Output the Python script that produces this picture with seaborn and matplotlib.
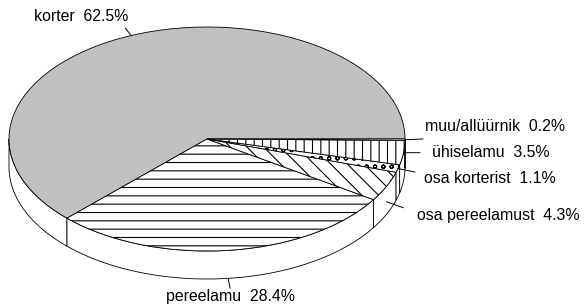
import numpy as np
import matplotlib
matplotlib.use('Agg')
import matplotlib.pyplot as plt
from matplotlib.patches import Polygon
import seaborn as sns

# Housing type shares (%), in drawing order counter-clockwise from 3 o'clock
labels = ['korter', 'pereelamu', 'osa pereelamust', 'osa korterist',
          'ühiselamu', 'muu/allüürnik']
shares = [62.5, 28.4, 4.3, 1.1, 3.5, 0.2]

colors = ['#c0c0c0', 'white', 'white', 'white', 'white', 'white']
hatches = ['', '--', '\\\\', 'oo', '||', '']

sns.set_theme(style='white')
plt.rcParams['font.family'] = ['Liberation Sans', 'DejaVu Sans']
plt.rcParams['hatch.linewidth'] = 0.8

fig = plt.figure(figsize=(5.84, 3.06), dpi=100)
ax = fig.add_axes([0, 0, 1, 1])

depth = 0.25  # height of the pie's side wall, in radius units (vertical)

# slice angles from the data
bounds = np.concatenate([[0], np.cumsum(shares)]) / sum(shares) * 360

# side wall for the front half (180..360 deg)
for a0, a1 in zip(bounds[:-1], bounds[1:]):
    lo, hi = max(a0, 180), min(a1, 360)
    if hi <= lo:
        continue
    t = np.radians(np.linspace(lo, hi, 80))
    top = np.column_stack([np.cos(t), np.sin(t)])
    bot = np.column_stack([np.cos(t), np.sin(t) - depth])[::-1]
    ax.add_patch(Polygon(np.vstack([top, bot]), closed=True, facecolor='white',
                         edgecolor='black', linewidth=0.6, zorder=1))

wedges, _ = ax.pie(shares, colors=colors, hatch=hatches, startangle=0,
                   radius=1, center=(0, 0),
                   wedgeprops=dict(edgecolor='black', linewidth=0.6, zorder=2))

ax.set_aspect('auto')
ax.set_xlim(-207 / 198, (584 - 207) / 198)
ax.set_ylim(-(306 - 139) / 112, 139 / 112)
ax.axis('off')

# label layout: wall drop (fraction of depth), leader end offset, text offset (pixels), alignment
drops = [0, 1.0, 0.55, 0, 0, 0]
leader = [(-6, 7.5), (2, -10), (17, -6), (17, -3.5), (16.5, 0), (18, 0.7)]
text_off = [(-3, 14.5), (2, -23), (30.6, -18), (26, -14), (28.5, -4), (20, 9)]
aligns = ['right', 'center', 'left', 'left', 'left', 'left']

for i, (name, val) in enumerate(zip(labels, shares)):
    mid = np.radians((bounds[i] + bounds[i + 1]) / 2)
    anchor = (np.cos(mid), np.sin(mid) - drops[i] * depth)
    ax.annotate('', xy=anchor, xytext=leader[i], textcoords='offset pixels',
                arrowprops=dict(arrowstyle='-', color='black', lw=0.7,
                                shrinkA=0, shrinkB=0))
    ax.annotate(f'{name}  {val:.1f}%', xy=anchor, xytext=text_off[i],
                textcoords='offset pixels', ha=aligns[i], va='baseline',
                fontsize=11.4, color='black')

fig.savefig('out.png', dpi=100)
